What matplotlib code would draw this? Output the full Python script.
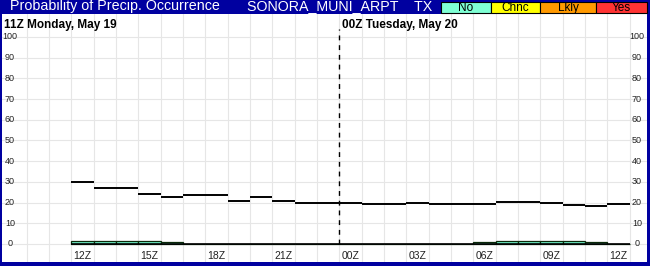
import numpy as np
import matplotlib.pyplot as plt
from matplotlib.patches import Rectangle

W, H = 650, 266

# hours shown (grid index 0 = 10Z), data start at 12Z
hour_labels = ["12Z", "15Z", "18Z", "21Z", "00Z", "03Z", "06Z", "09Z", "12Z"]
hours = ["12Z", "13Z", "14Z", "15Z", "16Z", "17Z", "18Z", "19Z", "20Z", "21Z",
         "22Z", "23Z", "00Z", "01Z", "02Z", "03Z", "04Z", "05Z", "06Z", "07Z",
         "08Z", "09Z", "10Z", "11Z", "12Z"]
# black line: total probability
pop_total = [30, 27, 27, 24, 22.5, 23.5, 23.5, 21, 22.5, 21, 20, 20,
             19.7, 19.2, 19.2, 19.6, 19.2, 19.2, 19.2, 20.1, 20.1, 19.6, 18.7, 18.2, 19.3]
# "No" category bars
pop_no = [1.5, 1.5, 1.5, 1.5, 1.0, 0, 0, 0, 0, 0, 0, 0,
          0, 0, 0, 0, 0, 0, 1.0, 1.5, 1.5, 1.5, 1.5, 1.0, 0]
legend_names = ["No", "Chnc", "Lkly", "Yes"]
legend_colors = ["#7fffd4", "#ffff00", "#ff9900", "#ff3333"]
yticks = list(range(0, 101, 10))

plt.rcParams['font.family'] = ['Liberation Sans', 'DejaVu Sans']

fig = plt.figure(figsize=(W / 100, H / 100), dpi=100)
fig.patch.set_facecolor("#0000a0")


def fx(x):
    return x / W


def fy(y):
    return 1 - y / H


ax = fig.add_axes([fx(2), 1 - 262 / H, 645 / W, 248 / H])
ax.set_facecolor("white")
x0 = 2
x = np.arange(len(hours)) + x0

# grid
ax.set_xlim(-1.106, 27.78)
ax.set_ylim(-8.7, 111.1)
for k in range(0, 28):
    ax.axvline(k, color="#e6e6e6", lw=0.8, zorder=0)
for v in yticks:
    ax.axhline(v, color="#e6e6e6", lw=0.8, zorder=0)

ax.bar(x, pop_no, width=1.0, align="edge", color="#70f0c8",
       edgecolor="#0a2a0a", lw=0.9, zorder=2)
ax.hlines(0, x[0], x[-1] + 1, color="black", lw=1.2, zorder=3)
ax.hlines(pop_total, x, x + 1, color="black", lw=1.4, zorder=3)

ax.axvline(14, ymin=(0 + 8.7) / 119.8, ymax=(104 + 8.7) / 119.8,
           color="black", lw=1.0, ls=(0, (3.5, 3.5)), zorder=3)

for v in yticks:
    for xp in (-0.748, 27.33):
        ax.text(xp, v, str(v), ha="center", va="center", fontsize=6.5,
                color="#222222", zorder=4)

for i, lab in enumerate(hour_labels):
    ax.text(x0 + 3 * i + 0.5, -5.6, lab, ha="center", va="center",
            fontsize=7.5, color="#222222")

ax.text(-1.0, 106, "11Z Monday, May 19", ha="left", va="center",
        fontsize=8.5, fontweight="bold")
ax.text(14.1, 106, "00Z Tuesday, May 20", ha="left", va="center",
        fontsize=8.5, fontweight="bold")

ax.set_xticks([])
ax.set_yticks([])
for s in ax.spines.values():
    s.set_visible(False)

# title bar
fig.text(fx(10), fy(10), "Probability of Precip. Occurrence", color="white",
         fontsize=10.3, ha="left", va="baseline", zorder=10)
fig.text(fx(247), fy(10), "SONORA_MUNI_ARPT    TX", color="white",
         fontsize=10.3, ha="left", va="baseline", zorder=10)

box_edges = [441, 491, 540, 596, 647]
for i, name in enumerate(legend_names):
    xa, xb = box_edges[i], box_edges[i + 1]
    fig.add_artist(Rectangle((fx(xa), fy(12.5)), (xb - xa) / W, 11 / H,
                             transform=fig.transFigure,
                             facecolor=legend_colors[i], edgecolor="black", lw=0.8))
    fig.text(fx((xa + xb) / 2), fy(10.7), name, ha="center", va="baseline",
             fontsize=8.5, color="black", zorder=10)

fig.savefig("out.png", dpi=100, facecolor=fig.get_facecolor())
